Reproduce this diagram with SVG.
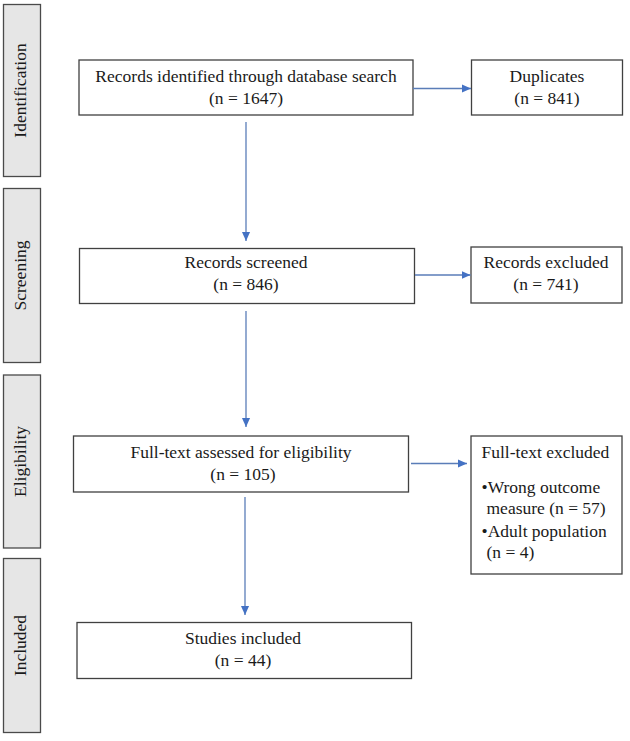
<svg xmlns="http://www.w3.org/2000/svg" width="630" height="741" viewBox="0 0 630 741">
<defs>
<style>
.bar{fill:#e6e6e6;stroke:#4a4a4a;stroke-width:1.3}
.box{fill:#ffffff;stroke:#404040;stroke-width:1.3}
.t{font-family:"Liberation Serif","Times New Roman",serif;font-size:17.5px;fill:#1a1a1a}
.c{text-anchor:middle}
.conn{stroke:#5a7db8;stroke-width:1.3;fill:none}
</style>
<marker id="ah" viewBox="0 0 10 10" refX="10" refY="5" markerWidth="9" markerHeight="9" markerUnits="userSpaceOnUse" orient="auto">
<path d="M0,0.5 L10,5 L0,9.5 z" fill="#4472c4"/>
</marker>
</defs>
<rect width="630" height="741" fill="#ffffff"/>

<g id="stage-identification">
<rect class="bar" x="3.5" y="4.5" width="37" height="172"/>
<text class="t c" transform="translate(26,90.5) rotate(-90)">Identification</text>
</g>
<g id="stage-screening">
<rect class="bar" x="3.5" y="188.5" width="37" height="174"/>
<text class="t c" transform="translate(26,275.5) rotate(-90)">Screening</text>
</g>
<g id="stage-eligibility">
<rect class="bar" x="3.5" y="375" width="37" height="173"/>
<text class="t c" transform="translate(26,461.5) rotate(-90)">Eligibility</text>
</g>
<g id="stage-included">
<rect class="bar" x="3.5" y="558.5" width="37" height="174"/>
<text class="t c" transform="translate(26,645.5) rotate(-90)">Included</text>
</g>

<g id="records-identified">
<rect class="box" x="79" y="60" width="334" height="55"/>
<text class="t c" x="246" y="82">Records identified through database search</text>
<text class="t c" x="246" y="104">(n = 1647)</text>
</g>
<g id="duplicates">
<rect class="box" x="471.5" y="60" width="151" height="55"/>
<text class="t c" x="547" y="82">Duplicates</text>
<text class="t c" x="547" y="104">(n = 841)</text>
</g>
<g id="records-screened">
<rect class="box" x="79.5" y="248.5" width="335" height="55"/>
<text class="t c" x="246" y="268">Records screened</text>
<text class="t c" x="246" y="290">(n = 846)</text>
</g>
<g id="records-excluded">
<rect class="box" x="471" y="247" width="151" height="56"/>
<text class="t c" x="546" y="268">Records excluded</text>
<text class="t c" x="546" y="290">(n = 741)</text>
</g>
<g id="full-text-assessed">
<rect class="box" x="73.5" y="436" width="335" height="56"/>
<text class="t c" x="241" y="458">Full-text assessed for eligibility</text>
<text class="t c" x="243" y="480">(n = 105)</text>
</g>
<g id="full-text-excluded">
<rect class="box" x="471" y="436" width="151" height="138"/>
<text class="t" x="481.5" y="458">Full-text excluded</text>
<text class="t" x="481.5" y="493">•Wrong outcome</text>
<text class="t" x="486.5" y="514">measure (n = 57)</text>
<text class="t" x="481.5" y="537">•Adult population</text>
<text class="t" x="486.5" y="558">(n = 4)</text>
</g>
<g id="studies-included">
<rect class="box" x="77" y="622.5" width="334.5" height="56"/>
<text class="t c" x="243" y="644">Studies included</text>
<text class="t c" x="243" y="666">(n = 44)</text>
</g>

<g id="connectors">
<line class="conn" x1="246" y1="122" x2="246" y2="241" marker-end="url(#ah)"/>
<line class="conn" x1="246" y1="311" x2="246" y2="427" marker-end="url(#ah)"/>
<line class="conn" x1="245" y1="497" x2="245" y2="615" marker-end="url(#ah)"/>
<line class="conn" x1="413" y1="88.5" x2="471" y2="88.5" marker-end="url(#ah)"/>
<line class="conn" x1="415" y1="275" x2="470.5" y2="275" marker-end="url(#ah)"/>
<line class="conn" x1="411" y1="463.5" x2="467" y2="463.5" marker-end="url(#ah)"/>
</g>
</svg>
